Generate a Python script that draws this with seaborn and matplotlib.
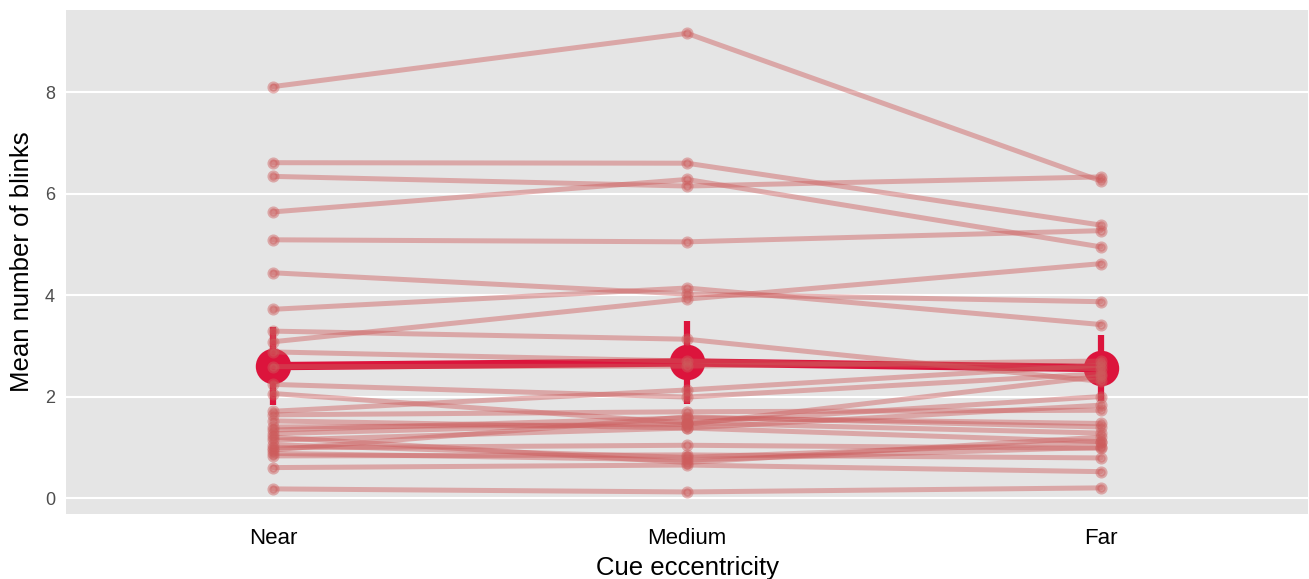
import numpy as np
import pandas as pd
import matplotlib
matplotlib.use("Agg")
import matplotlib.pyplot as plt
import seaborn as sns

conditions = ["Near", "Medium", "Far"]
near = [8.11, 6.61, 6.34, 5.64, 5.09, 4.44, 3.72, 3.08, 3.29, 2.88, 2.59, 2.24, 2.06, 1.71,
        1.64, 1.52, 1.34, 1.27, 1.14, 0.99, 0.88, 0.83, 0.60, 0.18, 1.20, 1.40, 1.05, 0.95]
medium = [9.16, 6.60, 6.15, 6.28, 5.05, 4.02, 4.14, 3.92, 3.13, 2.70, 2.60, 1.99, 1.48, 2.13,
          1.70, 1.38, 1.58, 1.48, 1.38, 1.04, 0.75, 0.85, 0.65, 0.12, 0.70, 1.45, 0.80, 1.60]
far = [6.25, 5.38, 6.33, 4.95, 5.27, 3.87, 3.42, 4.62, 2.30, 2.55, 2.70, 2.45, 2.00, 2.62,
       1.73, 1.83, 1.47, 1.28, 1.11, 0.98, 1.00, 0.79, 0.52, 0.20, 1.20, 2.40, 1.10, 1.40]
y_ticks = [0, 2, 4, 6, 8]

n = len(near)
df = pd.DataFrame({
    "subject": np.tile(np.arange(n), 3),
    "cond": np.repeat(conditions, n),
    "blinks": near + medium + far,
})
df["cond"] = pd.Categorical(df["cond"], categories=conditions, ordered=True)

sns.set_theme(style="darkgrid")
plt.rcParams["font.family"] = ["Liberation Sans", "DejaVu Sans"]

fig = plt.figure(figsize=(13.09, 5.79), dpi=100)
ax = fig.add_axes([66 / 1309, 65 / 579, 1242 / 1309, 504 / 579])
ax.set_facecolor("#E5E5E5")

sns.pointplot(data=df, x="cond", y="blinks", order=conditions, color="#DC143C",
              errorbar=("se", 1.96), markersize=21, linewidth=6,
              err_kws={"linewidth": 4.5, "solid_capstyle": "butt"}, ax=ax, zorder=2)

for s in range(n):
    sub = df[df["subject"] == s].sort_values("cond")
    sns.pointplot(data=sub, x="cond", y="blinks", order=conditions, color="#CD5C5C",
                  errorbar=None, markersize=6, linewidth=3.6, alpha=0.45,
                  ax=ax, zorder=3)

ax.set_xlim(-0.5, 2.5)
ax.set_ylim(-0.315, 9.62)
ax.set_yticks(y_ticks)
ax.set_yticklabels([str(t) for t in y_ticks])
ax.grid(axis="y", color="white", linewidth=1.5)
ax.grid(axis="x", visible=False)
ax.set_axisbelow(True)
for sp in ax.spines.values():
    sp.set_visible(False)
ax.tick_params(axis="both", length=4, width=1.1, color="#333333")
ax.tick_params(axis="y", labelsize=13, labelcolor="#4D4D4D", pad=4)
ax.tick_params(axis="x", labelsize=16, labelcolor="black", pad=6)
ax.set_xlabel("Cue eccentricity", fontsize=18.5, color="black", labelpad=5)
ax.set_ylabel("Mean number of blinks", fontsize=18.5, color="black", labelpad=8)

fig.savefig("out.png", dpi=100)
